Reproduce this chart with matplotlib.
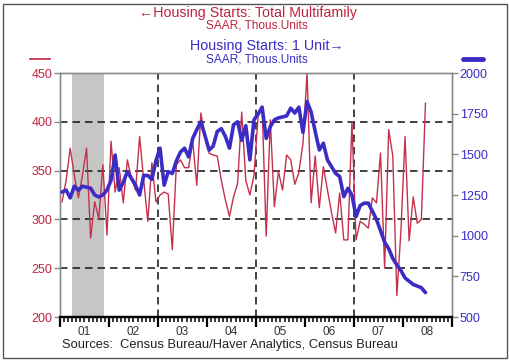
import matplotlib
matplotlib.use("Agg")
import matplotlib.pyplot as plt
import matplotlib.transforms as mtransforms
from matplotlib.patches import Rectangle
from matplotlib.lines import Line2D
import numpy as np

plt.rcParams['font.family'] = ['Liberation Sans', 'DejaVu Sans']

# Monthly data, Jan 2001 .. Jun 2008
start_year = 2001
multifamily = [318, 340, 373, 345, 322, 345, 373, 281, 318, 301, 356, 284,
               380, 328, 353, 317, 361, 342, 330, 385, 340, 298, 358, 318,
               325, 328, 326, 269, 356, 361, 353, 353, 380, 335, 409, 385,
               368, 366, 365, 340, 320, 303, 323, 337, 410, 340, 325, 345,
               405, 416, 283, 402, 313, 349, 330, 366, 361, 336, 348, 378,
               450, 317, 365, 312, 354, 330, 307, 286, 327, 279, 279, 400,
               279, 298, 295, 291, 322, 317, 368, 250, 392, 365, 222, 289,
               385, 278, 323, 296, 300, 419]
single_unit = [1268, 1280, 1232, 1304, 1280, 1304, 1298, 1292, 1250, 1238, 1250, 1280,
               1340, 1496, 1280, 1328, 1394, 1352, 1310, 1250, 1370, 1370, 1346, 1460,
               1538, 1310, 1394, 1382, 1460, 1514, 1538, 1484, 1598, 1652, 1700, 1616,
               1526, 1550, 1640, 1658, 1610, 1538, 1682, 1700, 1586, 1676, 1466, 1712,
               1748, 1790, 1598, 1670, 1712, 1724, 1730, 1736, 1784, 1754, 1790, 1635,
               1825, 1760, 1640, 1527, 1568, 1465, 1424, 1383, 1363, 1240, 1291, 1250,
               1117, 1185, 1200, 1200, 1150, 1100, 1030, 960, 920, 860, 820, 785,
               740, 720, 700, 690, 680, 650]
year_labels = ['01', '02', '03', '04', '05', '06', '07', '08']
recession = (2001.25, 2001.9)

RED = '#c0233f'
BLUE = '#3a2cc4'

t = np.array([start_year + (i + 0.5) / 12 for i in range(len(multifamily))])

fig = plt.figure(figsize=(5.10, 3.61), dpi=100)
ax = fig.add_axes([60/510, 1-317/361, 392/510, 244/361])
ax2 = ax.twinx()

ax.set_xlim(2001, 2009)
ax.set_ylim(200, 450)
ax2.set_ylim(500, 2000)

ax.axvspan(*recession, color='#c6c6c6', lw=0, zorder=0)

for y in [250, 300, 350, 400]:
    ax.axhline(y, color='#222222', lw=1.2, ls=(0, (4.5, 3)), zorder=1)
for x in [2003, 2005, 2007]:
    ax.axvline(x, color='#222222', lw=1.2, ls=(0, (4.5, 3)), zorder=1)

ax.plot(t, multifamily, color='#c4304c', lw=1.0, zorder=3)
ax2.plot(t, single_unit, color=BLUE, lw=2.6, zorder=3, solid_capstyle='round')

for a in (ax, ax2):
    for s in ['left', 'right', 'top']:
        a.spines[s].set_color('#8a8a8a')
        a.spines[s].set_linewidth(1.0)
    a.spines['bottom'].set_color('black')
    a.spines['bottom'].set_linewidth(1.6)

ax.set_yticks([200, 250, 300, 350, 400, 450])
ax.tick_params(axis='y', colors='#8a8a8a', labelcolor=RED, labelsize=9,
               length=4, width=1, direction='out', pad=1.5)
ax2.set_yticks([500, 750, 1000, 1250, 1500, 1750, 2000])
ax2.tick_params(axis='y', colors='#8a8a8a', labelcolor=BLUE, labelsize=9,
                length=4, width=1, direction='out', pad=1.5)

ax.set_xticks(np.arange(2001, 2010, 1))
ax.set_xticks(np.arange(2001, 2009, 1/12), minor=True)
ax.tick_params(axis='x', which='major', length=7, width=1.6, color='black',
               direction='out', labelbottom=False)
ax.tick_params(axis='x', which='minor', length=3.5, width=1.1, color='black',
               direction='out')

trans = mtransforms.blended_transform_factory(ax.transData, fig.transFigure)
for k, lab in enumerate(year_labels):
    fig.text(start_year + k + 0.5, 1 - 332/361, lab, transform=trans,
             ha='center', va='center', fontsize=8.5, color='#333333')

fig.text(248/510, 1 - 12.5/361, '\u2190Housing Starts: Total Multifamily',
         ha='center', va='center', fontsize=10.3, color=RED)
fig.text(257/510, 1 - 25.5/361, 'SAAR, Thous.Units',
         ha='center', va='center', fontsize=8.6, color=RED)
fig.text(267/510, 1 - 46/361, 'Housing Starts: 1 Unit\u2192',
         ha='center', va='center', fontsize=10.3, color=BLUE)
fig.text(257/510, 1 - 59/361, 'SAAR, Thous.Units',
         ha='center', va='center', fontsize=8.6, color=BLUE)

fig.add_artist(Line2D([30/510, 50/510], [1 - 59/361, 1 - 59/361],
                      color=RED, lw=1.2, transform=fig.transFigure))
fig.add_artist(Line2D([463/510, 483/510], [1 - 59/361, 1 - 59/361],
                      color=BLUE, lw=3.5, solid_capstyle='round',
                      transform=fig.transFigure))

fig.text(62/510, 1 - 345/361, 'Sources:  Census Bureau/Haver Analytics, Census Bureau',
         ha='left', va='center', fontsize=9.3, color='#222222')

fig.add_artist(Rectangle((3/510, 3/361), 504/510, 354/361, fill=False,
                         edgecolor='#555555', lw=1.0, transform=fig.transFigure))

fig.savefig('out.png', dpi=100)
